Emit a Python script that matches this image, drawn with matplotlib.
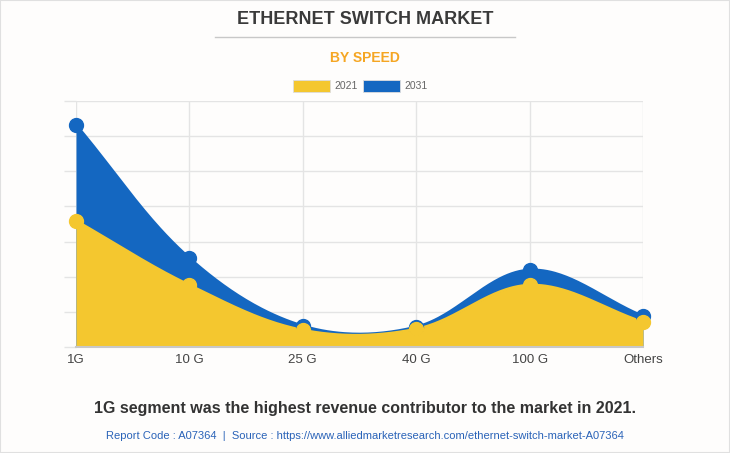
import numpy as np
import matplotlib
matplotlib.use("Agg")
import matplotlib.pyplot as plt
from matplotlib.patches import Rectangle
from matplotlib.lines import Line2D

plt.rcParams['font.family'] = ['Liberation Sans', 'DejaVu Sans']

# data (arbitrary units, no y labels shown)
categories = ['1G', '10 G', '25 G', '40 G', '100 G', 'Others']
values_2021 = [3.59, 1.76, 0.48, 0.51, 1.76, 0.71]
values_2031 = [6.32, 2.53, 0.60, 0.57, 2.19, 0.88]

yellow = '#F4C72F'
blue = '#1467C1'
grid_c = '#e4e4e4'


def spline(xs, ys, tension=0.35, n=60, sx=113.0, sy=35.1):
    # chart.js-like bezier smoothing, distances measured in ~pixel space
    xs = np.asarray(xs, float)
    ys = np.asarray(ys, float)
    px, py = xs * sx, ys * sy
    m = len(xs)
    c1, c2 = [], []
    for i in range(m):
        p = max(i - 1, 0)
        q = min(i + 1, m - 1)
        d01 = np.hypot(px[i] - px[p], py[i] - py[p])
        d12 = np.hypot(px[q] - px[i], py[q] - py[i])
        tot = d01 + d12 if d01 + d12 > 0 else 1
        fa = tension * d01 / tot
        fb = tension * d12 / tot
        dx, dy = px[q] - px[p], py[q] - py[p]
        c1.append((px[i] - fa * dx, py[i] - fa * dy))
        c2.append((px[i] + fb * dx, py[i] + fb * dy))
    outx, outy = [], []
    t = np.linspace(0, 1, n)
    for i in range(m - 1):
        p0 = np.array([px[i], py[i]])
        p1 = np.array(c2[i])
        p2 = np.array(c1[i + 1])
        p3 = np.array([px[i + 1], py[i + 1]])
        b = ((1 - t) ** 3)[:, None] * p0 + (3 * (1 - t) ** 2 * t)[:, None] * p1 \
            + (3 * (1 - t) * t ** 2)[:, None] * p2 + (t ** 3)[:, None] * p3
        outx.extend(b[:, 0] / sx)
        outy.extend(b[:, 1] / sy)
    return np.array(outx), np.array(outy)


fig = plt.figure(figsize=(7.3, 4.53), dpi=100)
fig.patch.set_facecolor('#fefdfc')
ax = fig.add_axes([76 / 730, 1 - 347 / 453, (643 - 76) / 730, (347 - 101) / 453])
ax.set_facecolor('#fefdfc')

x = np.arange(len(categories))
for vals, col in [(values_2031, blue), (values_2021, yellow)]:
    sx_, sy_ = spline(x, vals)
    ax.fill_between(sx_, 0, sy_, color=col, lw=0, zorder=2)
    ax.plot(sx_, sy_, color=col, lw=2, zorder=3)
    ax.plot(x, vals, 'o', color=col, ms=10, zorder=4, clip_on=False)

ax.set_xlim(0, len(categories) - 1)
ax.set_ylim(0, 7)
ax.set_xticks(x)
ax.set_xticklabels(categories, fontsize=9.5, color='#444')
ax.set_yticks(np.arange(0, 8))
ax.set_yticklabels([])
ax.grid(True, color=grid_c, lw=1, zorder=0)
ax.tick_params(axis='y', length=9, color=grid_c, width=1)
ax.tick_params(axis='x', length=0, pad=5)
for s in ['top', 'right', 'left']:
    ax.spines[s].set_visible(False)
ax.spines['bottom'].set_color('#c8c8c8')
ax.spines['bottom'].set_linewidth(1.5)
ax.spines['bottom'].set_zorder(5)

# headings
fig.text(0.5, 1 - 20 / 453, 'ETHERNET SWITCH MARKET', ha='center', va='center',
         fontsize=13, fontweight='bold', color='#3a3a3a')
fig.add_artist(Line2D([215 / 730, 515 / 730], [1 - 37 / 453, 1 - 37 / 453],
                      color='#c8c8c8', lw=1))
fig.text(0.5, 1 - 58 / 453, 'BY SPEED', ha='center', va='center',
         fontsize=10, fontweight='bold', color='#F5A623')

# legend swatches
for x0, col, lab in [(293, yellow, '2021'), (363, blue, '2031')]:
    fig.add_artist(Rectangle((x0 / 730, 1 - 92 / 453), 37 / 730, 12 / 453,
                             facecolor=col, edgecolor='#dddddd', lw=0.6))
    fig.text((x0 + 41) / 730, 1 - 86 / 453, lab, ha='left', va='center',
             fontsize=7.5, color='#666')

fig.text(0.5, 1 - 409 / 453,
         '1G segment was the highest revenue contributor to the market in 2021.',
         ha='center', va='center', fontsize=11.5, fontweight='bold', color='#333')
fig.text(0.5, 1 - 436 / 453,
         'Report Code : A07364  |  Source : https://www.alliedmarketresearch.com/ethernet-switch-market-A07364',
         ha='center', va='center', fontsize=8, color='#2a63b8')

fig.add_artist(Rectangle((0, 0), 1, 1, transform=fig.transFigure, fill=False,
                         edgecolor='#e0e0e0', lw=1.5))

fig.savefig('out.png', dpi=100, facecolor=fig.get_facecolor())
